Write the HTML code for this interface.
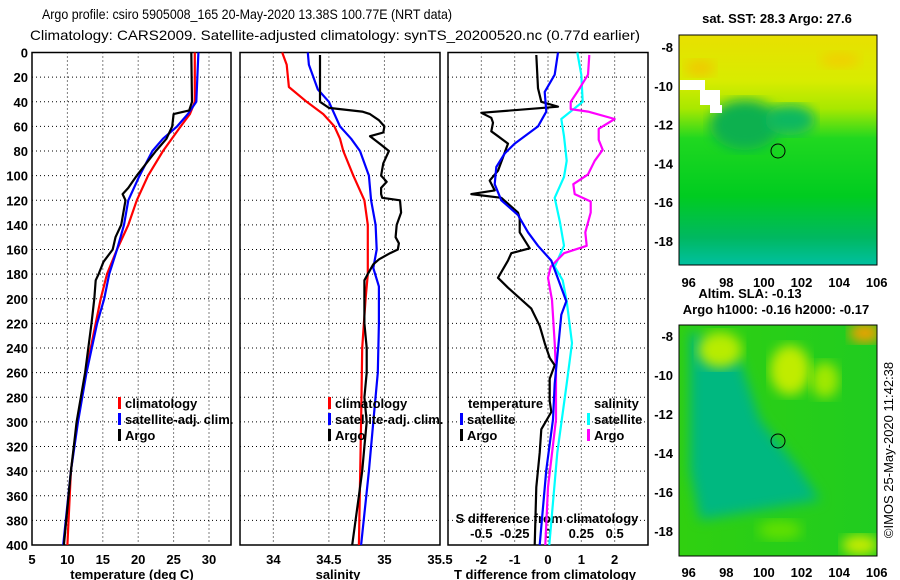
<!DOCTYPE html>
<html><head><meta charset="utf-8"><style>
html,body{margin:0;padding:0;background:#fff;}
svg{display:block;font-family:"Liberation Sans",sans-serif;}
.t{font-size:13px;font-weight:bold;fill:#000;}
</style></head><body>
<svg id="chart" width="900" height="580" viewBox="0 0 900 580" xmlns="http://www.w3.org/2000/svg">
<defs>
<linearGradient id="sstg" x1="0" y1="0" x2="0" y2="1">
<stop offset="0" stop-color="#e8e000"/><stop offset="0.2" stop-color="#d8ec00"/><stop offset="0.32" stop-color="#a8e800"/><stop offset="0.45" stop-color="#20d820"/><stop offset="0.7" stop-color="#00cc20"/><stop offset="0.88" stop-color="#00b860"/><stop offset="1" stop-color="#00c0a0"/>
</linearGradient>
<linearGradient id="slag" x1="0" y1="0" x2="1" y2="0">
<stop offset="0" stop-color="#30d010"/><stop offset="1" stop-color="#20cc20"/>
</linearGradient>
<filter id="blur"><feGaussianBlur stdDeviation="6"/></filter>
<clipPath id="c1"><rect x="679" y="35" width="198" height="230"/></clipPath>
<clipPath id="c2"><rect x="679" y="325" width="198" height="231"/></clipPath>
</defs>
<text x="42" y="19" font-size="14" textLength="410" lengthAdjust="spacingAndGlyphs">Argo profile: csiro 5905008_165 20-May-2020 13.38S 100.77E (NRT data)</text>
<text x="30" y="40" font-size="14" textLength="610" lengthAdjust="spacingAndGlyphs">Climatology: CARS2009. Satellite-adjusted climatology: synTS_20200520.nc (0.77d earlier)</text>
<g id="panels"></g>
<g>
<g clip-path="url(#c1)">
<rect x="679" y="35" width="198" height="230" fill="url(#sstg)"/>
<ellipse cx="745" cy="125" rx="35" ry="25" fill="#10b050" filter="url(#blur)"/>
<ellipse cx="790" cy="120" rx="25" ry="15" fill="#10b860" filter="url(#blur)"/>
<rect x="680" y="80" width="25" height="10" fill="#fff"/>
<rect x="700" y="90" width="20" height="15" fill="#fff"/>
<rect x="710" y="105" width="12" height="8" fill="#fff"/>
<ellipse cx="700" cy="68" rx="15" ry="8" fill="#f0c800" filter="url(#blur)"/>
<ellipse cx="840" cy="60" rx="20" ry="8" fill="#f0d000" filter="url(#blur)"/>
</g>
<rect x="679" y="35" width="198" height="230" fill="none" stroke="#000"/>
<circle cx="778" cy="151" r="7" fill="none" stroke="#000"/>
</g>
<g>
<g clip-path="url(#c2)">
<rect x="679" y="325" width="198" height="231" fill="url(#slag)"/>
<path d="M690 330 L740 360 L760 420 L800 470 L820 500 L700 520 L690 470Z" fill="#00b880" filter="url(#blur)"/>
<ellipse cx="720" cy="350" rx="22" ry="18" fill="#b8ec00" filter="url(#blur)"/>
<ellipse cx="790" cy="370" rx="20" ry="25" fill="#c0ec00" filter="url(#blur)"/>
<ellipse cx="825" cy="380" rx="14" ry="18" fill="#a0e800" filter="url(#blur)"/>
<ellipse cx="865" cy="333" rx="16" ry="10" fill="#f0a000" filter="url(#blur)"/>
<ellipse cx="860" cy="545" rx="18" ry="10" fill="#c8ec00" filter="url(#blur)"/>
<ellipse cx="780" cy="530" rx="22" ry="10" fill="#60e000" filter="url(#blur)"/>
</g>
<rect x="679" y="325" width="198" height="231" fill="none" stroke="#000"/>
<circle cx="778" cy="441" r="7" fill="none" stroke="#000"/>
</g>
<text class="t" x="777" y="23" text-anchor="middle" font-size="12">sat. SST: 28.3 Argo: 27.6</text>
<text class="t" x="750" y="298" text-anchor="middle">Altim. SLA: -0.13</text>
<text class="t" x="776" y="314" text-anchor="middle">Argo h1000: -0.16 h2000: -0.17</text>
<text font-size="13" transform="translate(893,450) rotate(-90)" text-anchor="middle">©IMOS 25-May-2020 11:42:38</text>
<g id="mapticks"></g>
</svg>
<script>
const tClimDepth=[0,40,50,60,80,100,120,140,160,180,200,220,260,300,340,400];
const tClimVal=[28,28,27.3,26,23.5,21.4,19.8,18.6,17,15.6,14.7,14,12.6,11.4,10.5,10];
const tSatDepth=[0,40,50,60,70,80,100,120,140,160,180,200,220,260,300,340,400];
const tSatVal=[28.5,28.2,27,25.5,23.5,22,20.2,18.6,18,17,15.9,15.2,14.2,12.7,11.5,10.5,9.4];
const tArgoDepth=[0,40,47,50,60,70,80,100,105,110,115,120,140,150,160,170,180,185,200,220,260,300,320,340,400];
const tArgoVal=[27.5,27.6,27.2,25,24.8,24,22.5,19.8,19.2,18.6,17.8,18.2,17.6,16.8,16.4,15.1,14.4,14,13.8,13.4,12.5,11.3,10.9,10.5,9.5];
const sClimDepth=[0,10,28,40,50,60,70,80,100,120,140,180,200,240,300,400];
const sClimVal=[34.08,34.12,34.14,34.3,34.45,34.55,34.6,34.63,34.72,34.82,34.85,34.85,34.83,34.8,34.79,34.77];
const sSatDepth=[0,10,30,40,60,70,80,100,120,140,160,175,190,220,260,300,340,400];
const sSatVal=[34.31,34.32,34.4,34.5,34.6,34.7,34.78,34.86,34.88,34.92,34.93,34.9,34.95,34.95,34.94,34.9,34.86,34.79];
const sArgoDepth=[2,40,45,48,50,55,60,65,68,70,75,80,90,100,105,110,115,118,120,130,140,150,155,160,163,168,172,180,185,200,220,240,260,280,300,320,340,360,400];
const sArgoVal=[34.42,34.42,34.5,34.8,34.87,34.95,35.0,34.99,34.87,34.9,34.97,35.04,34.99,34.97,35.02,34.97,34.97,34.98,35.14,35.15,35.11,35.1,35.13,35.12,35.05,34.95,34.9,34.85,34.82,34.82,34.82,34.84,34.84,34.82,34.84,34.82,34.8,34.77,34.71];
const dTArgoDepth=[2,29,40,44,49,53,57,64,68,74,85,96,104,112,115,118,130,135,146,159,163,169,183,191,208,222,236,248,254,265,283,292,306,325,353,400];
const dTArgoVal=[-0.35,-0.3,-0.2,0.3,-2.0,-1.7,-1.65,-1.7,-1.5,-1.2,-1.35,-1.5,-1.75,-1.6,-2.3,-1.4,-0.9,-0.85,-0.85,-0.55,-1.1,-1.2,-1.5,-1.2,-0.5,-0.25,-0.1,0.05,0.2,0.05,0.05,0.1,-0.2,-0.25,-0.35,-0.4];
const dTSatDepth=[0,18,32,48,60,74,82,93,107,120,132,146,157,169,180,202,213,269,298,339,400];
const dTSatVal=[0.3,0.2,-0.1,-0.05,-0.3,-1.0,-1.3,-1.55,-1.6,-1.4,-0.9,-0.6,-0.3,0.1,0.25,0.55,0.4,0.2,0.15,-0.05,-0.25];
const dSSatDepth=[0,18,40,54,68,88,101,118,138,157,174,185,202,236,269,325,400];
const dSSatVal=[0.22,0.25,0.26,0.1,0.12,0.14,0.12,0.05,0.09,0.12,0.05,0.11,0.14,0.18,0.14,0.07,0.01];
const dSArgoDepth=[2,18,32,40,46,48,54,62,71,79,88,99,107,115,121,130,146,157,163,174,183,201,236,258,298,353,400];
const dSArgoVal=[0.31,0.3,0.22,0.17,0.17,0.3,0.5,0.38,0.38,0.41,0.35,0.3,0.19,0.2,0.32,0.32,0.28,0.29,0.12,0.02,0,0.03,0.05,0.06,0.06,0,-0.02];
const depthTicks=[0,20,40,60,80,100,120,140,160,180,200,220,240,260,280,300,320,340,360,380,400];
const tTicks=[5,10,15,20,25,30];
const sTicks=[34,34.5,35,35.5];
const sTickLabels=["34","34.5","35","35.5"];
const dTTicks=[-2,-1,0,1,2];
const dSTicks=[-0.5,-0.25,0,0.25,0.5];
const dSTickLabels=["-0.5","-0.25","0","0.25","0.5"];
const lonTicks=[96,98,100,102,104,106];
const latTicks=[-8,-10,-12,-14,-16,-18];

const NS="http://www.w3.org/2000/svg";
const root=document.getElementById('panels');
function el(tag,attrs,parent){const e=document.createElementNS(NS,tag);for(const k in attrs)e.setAttribute(k,attrs[k]);(parent||root).appendChild(e);return e;}
const Y0=52.5,Y1=545;
const yD=d=>Y0+d*(Y1-Y0)/400;
function xs(x0,x1,v0,v1){return v=>x0+(v-v0)*(x1-x0)/(v1-v0);}
const xT=xs(32,231,5,5+199/7.08);
const xS=xs(240,440,33.7,35.5);
const xDT=xs(448,648,-3,3);
const xDS=xs(448,648,-0.75,0.75);

function frame(x0,x1,gridXs,name){
  const g=el('g',{});
  
  
  depthTicks.forEach(d=>{if(d>0&&d<400){const l=el('line',{x1:x0,x2:x1,y1:yD(d),y2:yD(d),stroke:'#000','stroke-dasharray':'1,3'},g);
    
    }});
  gridXs.forEach(x=>{const l=el('line',{x1:x,x2:x,y1:Y0,y2:Y1,stroke:'#000','stroke-dasharray':'1,3'},g);
    
    });
  const r=el('rect',{x:x0,y:Y0,width:x1-x0,height:Y1-Y0,fill:'none',stroke:'#000','stroke-width':1.5},g);
  
  
  return g;
}
function line(xf,vals,depths,color,name){
  const pts=vals.map((v,i)=>xf(v).toFixed(1)+','+yD(depths[i]).toFixed(1)).join(' ');
  const p=el('polyline',{points:pts,fill:'none',stroke:color,'stroke-width':2.2,'stroke-linejoin':'round'});
  
  
}
function text(x,y,s,anchor,name){
  const t=el('text',{x:x,y:y,class:'t','text-anchor':anchor||'start'});
  t.textContent=s;
  
  
  return t;
}
function legend(x,y,color,label,name){
  const r=el('rect',{x:x,y:y-11,width:3,height:12,fill:color});
  
  
  text(x+7,y,label,'start',name);
}

frame(32,231,tTicks.slice(1).map(xT),'temperature-panel');
frame(240,440,sTicks.slice(0,3).map(xS),'salinity-panel');
frame(448,648,dTTicks.map(xDT),'difference-panel');

depthTicks.forEach(d=>text(28,yD(d)+5,String(d),'end','depth-tick-label'));
tTicks.forEach(v=>text(xT(v),564,String(v),'middle','temperature-tick-label'));
sTicks.forEach((v,i)=>text(xS(v),564,sTickLabels[i],'middle','salinity-tick-label'));
dTTicks.forEach(v=>text(xDT(v),564,String(v),'middle','t-diff-tick-label'));
dSTicks.forEach((v,i)=>text(xDS(v),538,dSTickLabels[i],'middle','s-diff-tick-label'));
text(132,579,'temperature (deg C)','middle','temperature-axis-title');
text(338,579,'salinity','middle','salinity-axis-title');
text(545,579,'T difference from climatology','middle','t-diff-axis-title');
text(547,523,'S difference from climatology','middle','s-diff-axis-title');

line(xT,tClimVal,tClimDepth,'#ff0000','temperature-climatology-line');
line(xT,tSatVal,tSatDepth,'#0000ff','temperature-satellite-line');
line(xT,tArgoVal,tArgoDepth,'#000000','temperature-argo-line');
line(xS,sClimVal,sClimDepth,'#ff0000','salinity-climatology-line');
line(xS,sSatVal,sSatDepth,'#0000ff','salinity-satellite-line');
line(xS,sArgoVal,sArgoDepth,'#000000','salinity-argo-line');
line(xDS,dSSatVal,dSSatDepth,'#00ffff','s-diff-satellite-line');
line(xDS,dSArgoVal,dSArgoDepth,'#ff00ff','s-diff-argo-line');
line(xDT,dTArgoVal,dTArgoDepth,'#000000','t-diff-argo-line');
line(xDT,dTSatVal,dTSatDepth,'#0000ff','t-diff-satellite-line');

legend(118,408,'#ff0000','climatology','legend-climatology');
legend(118,424,'#0000ff','satellite-adj. clim.','legend-satellite');
legend(118,440,'#000000','Argo','legend-argo');
legend(328,408,'#ff0000','climatology','legend-climatology');
legend(328,424,'#0000ff','satellite-adj. clim.','legend-satellite');
legend(328,440,'#000000','Argo','legend-argo');
text(468,408,'temperature','start','legend-temperature-header');
text(594,408,'salinity','start','legend-salinity-header');
legend(460,424,'#0000ff','satellite','legend-t-satellite');
legend(460,440,'#000000','Argo','legend-t-argo');
legend(587,424,'#00ffff','satellite','legend-s-satellite');
legend(587,440,'#ff00ff','Argo','legend-s-argo');

const mt=document.getElementById('mapticks');
const lonX=v=>688.7+(v-96)*18.8;
[[47,19.4,287],[336,19.5,577]].forEach(m=>{
  lonTicks.forEach(v=>{
    const t=el('text',{x:lonX(v),y:m[2],class:'t','text-anchor':'middle'},mt);t.textContent=String(v);
    
    
  });
  latTicks.forEach(v=>{
    const y=m[0]+(-8-v)*m[1];
    const t=el('text',{x:673,y:y+5,class:'t','text-anchor':'end'},mt);t.textContent=String(v);
    
    
  });
});
</script>
</body></html>
